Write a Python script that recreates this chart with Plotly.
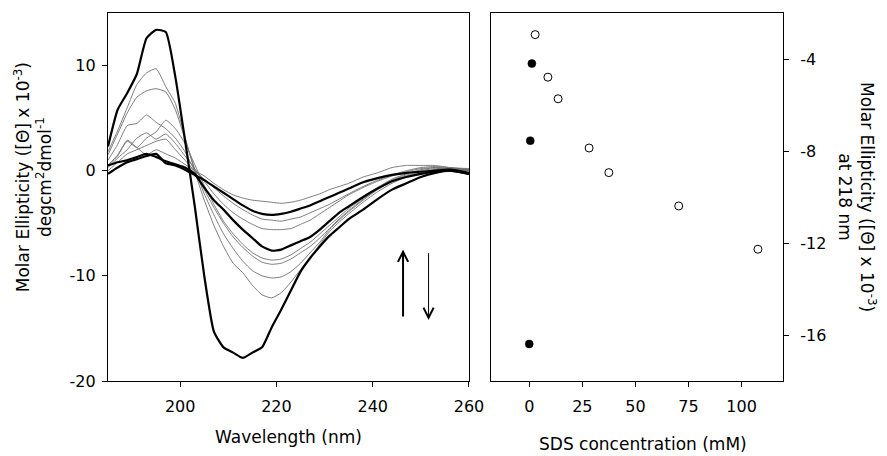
import plotly.graph_objects as go

# ---------------- data: CD spectra (left panel) ----------------
wavelength = [185, 187, 189, 191, 193, 195, 197, 199, 201, 203, 205, 207, 209, 211, 213, 215, 217,
              219, 221, 223, 225, 227, 229, 231, 233, 235, 238, 241, 244, 247, 250, 253, 256, 260]

# thick black spectra
thick_1 = [2.3, 5.8, 7.4, 9.2, 12.6, 13.4, 13.2, 8.9, 2.9, -3.3, -10.0, -15.3, -16.8, -17.3, -17.8, -17.3, -16.8,
           -14.9, -13.2, -11.4, -9.6, -8.3, -7.2, -6.2, -5.4, -4.6, -3.7, -2.7, -1.8, -1.2, -0.6, -0.2, 0.0, -0.3]
thick_2 = [0.5, 0.8, 1.0, 1.3, 1.6, 1.3, 0.9, 0.6, 0.3, -0.3, -1.6, -2.8, -3.7, -4.7, -5.6, -6.4, -7.2,
           -7.6, -7.5, -7.1, -6.7, -6.3, -5.6, -4.8, -4.0, -3.4, -2.5, -1.7, -1.0, -0.6, -0.3, -0.1, 0.0, -0.3]
thick_3 = [-0.3, 0.3, 0.8, 1.1, 1.4, 1.6, 0.7, 0.5, 0.1, -0.4, -0.9, -1.5, -2.1, -2.7, -3.3, -3.8, -4.1,
           -4.2, -4.1, -3.9, -3.6, -3.3, -2.9, -2.5, -2.1, -1.7, -1.1, -0.7, -0.4, -0.2, -0.1, 0.0, 0.1, -0.2]

# thin grey spectra
thin_1 = [1.8, 3.8, 6.0, 8.2, 9.3, 9.7, 8.0, 6.4, 3.2, 0.0, -2.8, -5.2, -7.2, -8.8, -9.7, -10.9, -11.8,
          -12.1, -11.6, -10.6, -9.4, -8.3, -7.0, -5.8, -4.9, -4.1, -3.0, -2.0, -1.2, -0.6, -0.2, 0.1, 0.2, 0.1]
thin_2 = [1.5, 3.5, 5.5, 7.0, 7.6, 7.8, 7.5, 5.8, 3.0, 0.2, -2.2, -4.2, -6.0, -7.4, -8.6, -9.5, -10.0,
          -10.2, -10.1, -9.6, -8.8, -7.8, -6.8, -5.6, -4.7, -3.9, -2.8, -1.8, -1.0, -0.5, -0.1, 0.1, 0.2, 0.0]
thin_3 = [1.0, 2.5, 4.3, 4.5, 5.3, 4.6, 4.0, 3.1, 1.8, 0.0, -1.8, -3.5, -5.0, -6.3, -7.3, -8.1, -8.7,
          -8.9, -8.8, -8.4, -7.8, -7.2, -6.4, -5.5, -4.6, -3.8, -2.7, -1.7, -0.9, -0.4, 0.0, 0.2, 0.2, 0.1]
thin_4 = [0.5, 1.5, 2.8, 2.2, 3.1, 3.7, 4.8, 4.0, 2.6, 0.6, -1.4, -3.2, -4.8, -6.0, -7.0, -7.8, -8.3,
          -8.5, -8.4, -8.0, -7.4, -6.8, -6.0, -5.2, -4.4, -3.6, -2.6, -1.6, -0.8, -0.3, 0.1, 0.3, 0.2, 0.0]
thin_5 = [0.3, 1.2, 2.0, 3.1, 3.6, 3.0, 3.5, 2.6, 1.4, 0.2, -1.0, -2.2, -3.2, -4.0, -4.6, -5.1, -5.5,
          -5.6, -5.6, -5.5, -5.1, -4.7, -4.1, -3.5, -2.9, -2.3, -1.6, -1.0, -0.5, -0.1, 0.2, 0.3, 0.2, 0.0]
thin_6 = [0.0, 0.8, 1.6, 2.0, 2.4, 2.8, 3.0, 2.0, 1.0, 0.0, -0.8, -1.6, -2.4, -3.1, -3.7, -4.2, -4.6,
          -4.7, -4.8, -4.6, -4.4, -4.0, -3.6, -3.2, -2.7, -2.2, -1.5, -0.9, -0.4, 0.0, 0.3, 0.4, 0.3, 0.1]
thin_7 = [0.5, 1.4, 2.9, 2.2, 1.5, 2.0, 1.6, 1.2, 0.6, 0.0, -0.5, -1.2, -1.8, -2.3, -2.6, -2.8, -2.9,
          -3.0, -3.1, -3.0, -2.8, -2.5, -2.2, -1.8, -1.5, -1.2, -0.6, -0.2, 0.3, 0.5, 0.5, 0.5, 0.3, 0.2]

# ---------------- data: ellipticity at 218 nm (right panel) ----------------
sds_open = [2.8, 8.8, 13.6, 28.2, 37.5, 70.4, 107.7]
ell_open = [-2.94, -4.79, -5.73, -7.87, -8.94, -10.39, -12.27]
sds_filled = [1.25, 0.5, 0.0]
ell_filled = [-4.2, -7.55, -16.39]

# ticks
left_x_ticks = [200, 220, 240, 260]
left_y_ticks = [-20, -10, 0, 10]
left_y_ticklabels = ["-20", "-10", "0", "10"]
right_x_ticks = [0, 25, 50, 75, 100]
right_y_ticks = [-16, -12, -8, -4]
right_y_ticklabels = ["-16", "-12", "-8", "-4"]

FONT = "'DejaVu Sans', Arial, sans-serif"
FS_TICK = 16
FS_TITLE = 17

fig = go.Figure()

for ys in [thin_1, thin_2, thin_3, thin_4, thin_5, thin_6, thin_7]:
    fig.add_trace(go.Scatter(x=wavelength, y=ys, mode="lines",
                             line=dict(color="#6e6e6e", width=0.9, shape="spline", smoothing=0.5),
                             xaxis="x", yaxis="y", showlegend=False, hoverinfo="skip"))
for ys in [thick_3, thick_2, thick_1]:
    fig.add_trace(go.Scatter(x=wavelength, y=ys, mode="lines",
                             line=dict(color="black", width=2.2, shape="spline", smoothing=0.5),
                             xaxis="x", yaxis="y", showlegend=False, hoverinfo="skip"))

fig.add_trace(go.Scatter(x=sds_open, y=ell_open, mode="markers",
                         marker=dict(symbol="circle", size=8, color="white",
                                     line=dict(color="black", width=1)),
                         xaxis="x2", yaxis="y2", showlegend=False))
fig.add_trace(go.Scatter(x=sds_filled, y=ell_filled, mode="markers",
                         marker=dict(symbol="circle", size=8, color="black",
                                     line=dict(color="black", width=0.5)),
                         xaxis="x2", yaxis="y2", showlegend=False))

axis_common = dict(showline=True, linecolor="black", linewidth=1.3, mirror=True,
                   ticks="outside", ticklen=5, tickwidth=1.2, tickcolor="black",
                   showgrid=False, zeroline=False,
                   tickfont=dict(family=FONT, size=FS_TICK, color="black"))

fig.update_layout(
    width=887, height=456,
    margin=dict(l=108, r=104, t=13, b=75),
    paper_bgcolor="white", plot_bgcolor="white",
    font=dict(family=FONT, size=FS_TITLE, color="black"),
    xaxis=dict(domain=[0, 0.5348], range=[185, 260], tickvals=left_x_ticks,
               ticklabelstandoff=6, anchor="y", **axis_common),
    yaxis=dict(domain=[0, 1], range=[-20, 15], tickvals=left_y_ticks, ticktext=left_y_ticklabels,
               ticklabelstandoff=3, anchor="x", **axis_common),
    xaxis2=dict(domain=[0.5674, 1], range=[-18, 119.5], tickvals=right_x_ticks,
                ticklabelstandoff=6, anchor="y2", **axis_common),
    yaxis2=dict(domain=[0, 1], range=[-18, -2], tickvals=right_y_ticks, ticktext=right_y_ticklabels,
                side="right", ticklabelstandoff=8, anchor="x2", **axis_common),
)

annotations = [
    dict(text="Molar Ellipticity ([Θ] x 10<sup>-3</sup>)<br>degcm<sup>2</sup>dmol<sup>-1</sup>",
         xref="paper", yref="paper", x=-0.111, y=0.554, xanchor="center", yanchor="middle",
         textangle=-90, showarrow=False, font=dict(family=FONT, size=FS_TITLE)),
    dict(text="Molar Ellipticity ([Θ] x 10<sup>-3</sup>)<br>at 218 nm",
         xref="paper", yref="paper", x=1.1096, y=0.5, xanchor="center", yanchor="middle",
         textangle=90, showarrow=False, font=dict(family=FONT, size=FS_TITLE)),
    dict(text="Wavelength (nm)", xref="paper", yref="paper", x=0.267, y=-0.152,
         xanchor="center", yanchor="middle", showarrow=False, font=dict(family=FONT, size=FS_TITLE)),
    dict(text="SDS concentration (mM)", xref="paper", yref="paper", x=0.7926, y=-0.171,
         xanchor="center", yanchor="middle", showarrow=False, font=dict(family=FONT, size=FS_TITLE)),
    # arrows indicating direction of change
    dict(x=246.3, y=-7.5, ax=246.3, ay=-14.0, xref="x", yref="y", axref="x", ayref="y",
         text="", showarrow=True, arrowhead=5, arrowsize=1, arrowwidth=2, arrowcolor="black",
         standoff=0, startstandoff=0),
    dict(x=251.6, y=-14.2, ax=251.6, ay=-7.7, xref="x", yref="y", axref="x", ayref="y",
         text="", showarrow=True, arrowhead=5, arrowsize=2, arrowwidth=1, arrowcolor="black",
         standoff=0, startstandoff=0),
]
fig.update_layout(annotations=annotations)

fig.write_html("out.html",
               config={"displayModeBar": False},
               post_script="document.body.style.margin='0';document.body.style.padding='0';")
